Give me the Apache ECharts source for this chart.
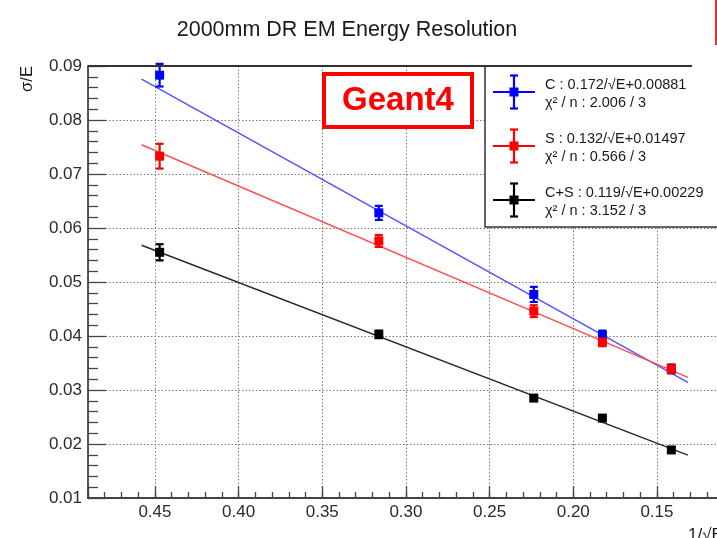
<!DOCTYPE html>
<html>
<head>
<meta charset="utf-8">
<script src="https://cdn.jsdelivr.net/npm/echarts@6/dist/echarts.min.js"></script>
<style>
  html, body { margin: 0; padding: 0; background: #fff; overflow: hidden; width: 717px; height: 538px; }
  /* the frame runs on past the right edge of the page, so the canvas is wider than the window */
  #chart { width: 780px; height: 538px; }
</style>
</head>
<body>
<div id="chart"></div>
<script>
// 1/sqrt(E) of the beam energies (5, 10, 20, 30, 50 GeV)
const invSqrtE = [0.4472, 0.3162, 0.2236, 0.1826, 0.1414];

// sigma/E per channel, with errors
const cRes   = [0.0883, 0.0628, 0.0477, 0.0402, 0.0339];
const cErr   = [0.0021, 0.0013, 0.0014, 0.0008, 0.0008];
const sRes   = [0.0733, 0.0576, 0.0446, 0.0389, 0.0339];
const sErr   = [0.0023, 0.0011, 0.0011, 0.0008, 0.0008];
const csRes  = [0.0555, 0.0403, 0.0285, 0.0248, 0.0189];
const csErr  = [0.0015, 0.0007, 0.0005, 0.0005, 0.0005];

// fit results: sigma/E = a/sqrt(E) + b
const channelNames = ['C', 'S', 'C+S'];
const fitStochastic = [0.172, 0.132, 0.119];
const fitConstant   = [0.00881, 0.01497, 0.00229];
const fitChi2       = ['2.006', '0.566', '3.152'];
const fitNdf        = [3, 3, 3];
const fitRange      = [0.458, 0.1315];

const markerColors = ['#0000ff', '#ff0000', '#000000'];
const lineColors   = ['#5454ff', '#ff5050', '#2a2a2a'];

const resValues = [cRes, sRes, csRes];
const resErrors = [cErr, sErr, csErr];

const FONT = '"Liberation Sans", Arial, Helvetica, sans-serif';
const AXIS_COLOR = '#444';

const chart = echarts.init(document.getElementById('chart'), null, { renderer: 'canvas' });

function errorBarSeries(idx) {
  const color = markerColors[idx];
  return {
    type: 'custom',
    name: channelNames[idx] + ' errors',
    xAxisIndex: 0,
    yAxisIndex: 0,
    z: 3,
    silent: true,
    clip: false,
    encode: { x: 0, y: 1 },
    data: invSqrtE.map((x, i) => [x, resValues[idx][i], resErrors[idx][i]]),
    renderItem(params, api) {
      const x = api.value(0), y = api.value(1), e = api.value(2);
      const hi = api.coord([x, y + e]);
      const lo = api.coord([x, y - e]);
      const cap = 4;
      const st = { stroke: color, lineWidth: 2.2 };
      return {
        type: 'group',
        children: [
          { type: 'line', shape: { x1: hi[0], y1: hi[1], x2: lo[0], y2: lo[1] }, style: st },
          { type: 'line', shape: { x1: hi[0] - cap, y1: hi[1], x2: hi[0] + cap, y2: hi[1] }, style: st },
          { type: 'line', shape: { x1: lo[0] - cap, y1: lo[1], x2: lo[0] + cap, y2: lo[1] }, style: st }
        ]
      };
    }
  };
}

function pointSeries(idx) {
  return {
    type: 'scatter',
    name: channelNames[idx],
    xAxisIndex: 0,
    yAxisIndex: 0,
    z: 3,
    silent: true,
    symbol: 'rect',
    symbolSize: 9,
    itemStyle: { color: markerColors[idx], opacity: 1 },
    data: invSqrtE.map((x, i) => [x, resValues[idx][i]])
  };
}

function fitSeries(idx) {
  const a = fitStochastic[idx], b = fitConstant[idx];
  return {
    type: 'line',
    name: channelNames[idx] + ' fit',
    xAxisIndex: 0,
    yAxisIndex: 0,
    z: 2,
    silent: true,
    symbol: 'none',
    lineStyle: { color: lineColors[idx], width: 1.5 },
    data: fitRange.map(x => [x, a * x + b])
  };
}

const series = [];
[0, 1, 2].forEach(i => series.push(fitSeries(i)));
[0, 1, 2].forEach(i => { series.push(errorBarSeries(i)); series.push(pointSeries(i)); });

// legend entries (error-bar cross + two lines of fit text)
const legendCentres = [92, 146, 200];
const legendGraphics = [];
legendGraphics.push({
  type: 'rect', z: 100,
  shape: { x: 485, y: 66, width: 320, height: 161 },
  style: { fill: '#fff', stroke: null }
});
legendGraphics.push({
  type: 'polyline', z: 101,
  shape: { points: [[485, 66], [485, 227], [805, 227]] },
  style: { stroke: '#333', lineWidth: 1.5, fill: null }
});
channelNames.forEach((name, i) => {
  const cy = legendCentres[i];
  const col = markerColors[i];
  const st = { stroke: col, lineWidth: 2.2 };
  legendGraphics.push(
    { type: 'line', z: 102, shape: { x1: 493, y1: cy, x2: 535, y2: cy }, style: st },
    { type: 'line', z: 102, shape: { x1: 514, y1: cy - 16.5, x2: 514, y2: cy + 16.5 }, style: st },
    { type: 'line', z: 102, shape: { x1: 510, y1: cy - 16.5, x2: 518, y2: cy - 16.5 }, style: st },
    { type: 'line', z: 102, shape: { x1: 510, y1: cy + 16.5, x2: 518, y2: cy + 16.5 }, style: st },
    { type: 'rect', z: 103, shape: { x: 509.5, y: cy - 4.5, width: 9, height: 9 }, style: { fill: col } },
    {
      type: 'text', z: 102, x: 545, y: cy - 7,
      style: {
        text: name + ' : ' + fitStochastic[i].toFixed(3) + '/√E+' + fitConstant[i].toFixed(5),
        font: '14.5px ' + FONT, fill: '#1a1a1a', textVerticalAlign: 'middle', textAlign: 'left'
      }
    },
    {
      type: 'text', z: 102, x: 545, y: cy + 11,
      style: {
        text: 'χ² / n : ' + fitChi2[i] + ' / ' + fitNdf[i],
        font: '14.5px ' + FONT, fill: '#1a1a1a', textVerticalAlign: 'middle', textAlign: 'left'
      }
    }
  );
});

const option = {
  backgroundColor: '#fff',
  animation: false,
  grid: { left: 88, top: 66, width: 652.6, height: 432, containLabel: false },
  xAxis: [
    {
      type: 'value', inverse: true, position: 'bottom',
      min: 0.10, max: 0.49, interval: 0.05,
      axisLine: { show: true, onZero: false, lineStyle: { color: AXIS_COLOR, width: 1.8 } },
      axisTick: { show: true, inside: true, length: 12, lineStyle: { color: AXIS_COLOR, width: 1.3 } },
      axisLabel: {
        color: '#2a2a2a', fontSize: 17, fontFamily: FONT, margin: 6,
        formatter: v => Math.abs(v / 0.05 - Math.round(v / 0.05)) < 1e-6 ? v.toFixed(2) : ''
      },
      splitLine: { show: true, lineStyle: { color: '#7a7a7a', type: [1.5, 2], width: 1 } }
    },
    {
      // minor ticks every 0.01
      type: 'value', inverse: true, position: 'bottom',
      min: 0.10, max: 0.49, interval: 0.01,
      axisLine: { show: false, onZero: false },
      axisTick: { show: true, inside: true, length: 6, lineStyle: { color: AXIS_COLOR, width: 1.3 } },
      axisLabel: { show: false },
      splitLine: { show: false }
    }
  ],
  yAxis: {
    type: 'value', min: 0.01, max: 0.09, interval: 0.01,
    axisLine: { show: true, onZero: false, lineStyle: { color: AXIS_COLOR, width: 1.8 } },
    axisTick: { show: true, inside: true, length: 18, lineStyle: { color: AXIS_COLOR, width: 1.3 } },
    minorTick: { show: true, splitNumber: 5, length: 10, lineStyle: { color: AXIS_COLOR, width: 1.3 } },
    axisLabel: { color: '#2a2a2a', fontSize: 17, fontFamily: FONT, margin: 6, formatter: v => v.toFixed(2) },
    splitLine: { show: true, showMinLine: false, showMaxLine: false,
      lineStyle: { color: '#7a7a7a', type: [1.5, 2], width: 1 } }
  },
  series: series,
  graphic: [
    {
      type: 'text', x: 347, y: 30,
      style: { text: '2000mm DR EM Energy Resolution', font: '21.5px ' + FONT, fill: '#1a1a1a',
        textAlign: 'center', textVerticalAlign: 'middle' }
    },
    {
      type: 'text', x: 27, y: 79, rotation: Math.PI / 2,
      style: { text: 'σ/E', font: '16.5px ' + FONT, fill: '#1a1a1a', textAlign: 'center', textVerticalAlign: 'middle' }
    },
    {
      type: 'text', x: 688, y: 535,
      style: { text: '1/√E', font: '17px ' + FONT, fill: '#1a1a1a', textAlign: 'left', textVerticalAlign: 'middle' }
    },
    {
      // top edge of the frame
      type: 'line', z: 101,
      shape: { x1: 88, y1: 66, x2: 692, y2: 66 },
      style: { stroke: '#333', lineWidth: 1.8 }
    },
    ...legendGraphics,
    {
      type: 'rect', z: 100,
      shape: { x: 324, y: 74, width: 148, height: 53 },
      style: { fill: '#fff', stroke: '#ff0000', lineWidth: 4 }
    },
    {
      type: 'text', z: 101, x: 398, y: 101,
      style: { text: 'Geant4', font: 'bold 33px ' + FONT, fill: '#ff0000',
        textAlign: 'center', textVerticalAlign: 'middle' }
    },
    {
      type: 'rect', z: 100,
      shape: { x: 715, y: 0, width: 2, height: 45 },
      style: { fill: '#e53030' }
    }
  ]
};

chart.setOption(option);
</script>
</body>
</html>
